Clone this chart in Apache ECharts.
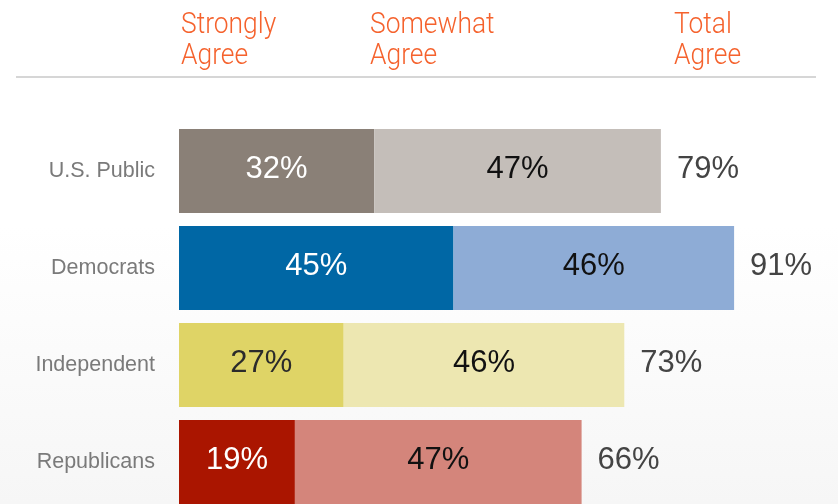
<!DOCTYPE html>
<html>
<head>
<meta charset="utf-8">
<script src="https://cdn.jsdelivr.net/npm/echarts@6/dist/echarts.min.js"></script>
<style>html,body{margin:0;padding:0;background:#fff}#c{width:838px;height:504px}</style>
</head>
<body>
<div id="c"></div>
<script>
const categories = ['U.S. Public', 'Democrats', 'Independent', 'Republicans'];
const strongly = [32, 45, 27, 19];
const somewhat = [47, 46, 46, 47];
const totals = [79, 91, 73, 66];
const headers = ['Strongly\nAgree', 'Somewhat\nAgree', 'Total\nAgree'];

const darkColors = ['#8a8077', '#0067a5', '#dfd466', '#aa1500'];
const lightColors = ['#c4beb9', '#8eacd6', '#ede7b1', '#d4857b'];
const darkLabel = ['#ffffff', '#ffffff', '#2b2b2b', '#ffffff'];
const lightLabel = ['#111111', '#111111', '#111111', '#111111'];

const chart = echarts.init(document.getElementById('c'), null, {renderer: 'canvas'});
const FONT = '"Liberation Sans", Arial, Helvetica, sans-serif';
const HFONT = 'Roboto, "Liberation Sans", sans-serif';

const headerX = [181, 370, 674];
const headerLineY = [25, 56];

const headerGraphics = [];
headers.forEach((t, i) => {
  t.split('\n').forEach((line, j) => {
    headerGraphics.push({
      type: 'text', x: headerX[i], y: headerLineY[j], scaleX: 0.88,
      style: {text: line, fill: '#f5622d', fontSize: 30, fontWeight: 300, fontFamily: HFONT,
              align: 'left', verticalAlign: 'middle'}
    });
  });
});

chart.setOption({
  backgroundColor: {
    type: 'linear', x: 0, y: 0, x2: 0, y2: 1,
    colorStops: [{offset: 0, color: '#ffffff'}, {offset: 0.45, color: '#ffffff'}, {offset: 1, color: '#f6f6f6'}]
  },
  animation: false,
  grid: {left: 179, width: 610, top: 122.5, height: 388, containLabel: false, outerBoundsMode: 'none'},
  xAxis: {type: 'value', min: 0, max: 100, show: false},
  yAxis: {
    type: 'category', data: categories, inverse: true,
    axisLine: {show: false}, axisTick: {show: false}, splitLine: {show: false},
    axisLabel: {color: '#7a7a7a', fontSize: 21.5, fontFamily: FONT, margin: 24}
  },
  series: [
    {
      type: 'bar', stack: 'a', barWidth: 84, name: 'Strongly',
      data: strongly.map((v, i) => ({value: v, itemStyle: {color: darkColors[i]}, label: {color: darkLabel[i]}})),
      label: {show: true, position: 'inside', offset: [0, -2], fontSize: 31, fontFamily: FONT, formatter: '{c}%'}
    },
    {
      type: 'bar', stack: 'a', barWidth: 84, name: 'Somewhat',
      data: somewhat.map((v, i) => ({value: v, itemStyle: {color: lightColors[i]}, label: {color: lightLabel[i]}})),
      label: {show: true, position: 'inside', offset: [0, -2], fontSize: 31, fontFamily: FONT, formatter: '{c}%'}
    },
    {
      type: 'bar', barWidth: 84, barGap: '-100%', name: 'Total', z: 1,
      data: totals,
      itemStyle: {color: 'rgba(0,0,0,0)'},
      label: {show: true, position: 'right', distance: 16, offset: [0, -2], fontSize: 31, fontFamily: FONT, color: '#444444', formatter: '{c}%'}
    }
  ],
  graphic: [
    ...headerGraphics,
    {type: 'line', shape: {x1: 16, y1: 77, x2: 816, y2: 77}, style: {stroke: '#c8c8c8', lineWidth: 1.5}}
  ]
});
</script>
</body>
</html>
